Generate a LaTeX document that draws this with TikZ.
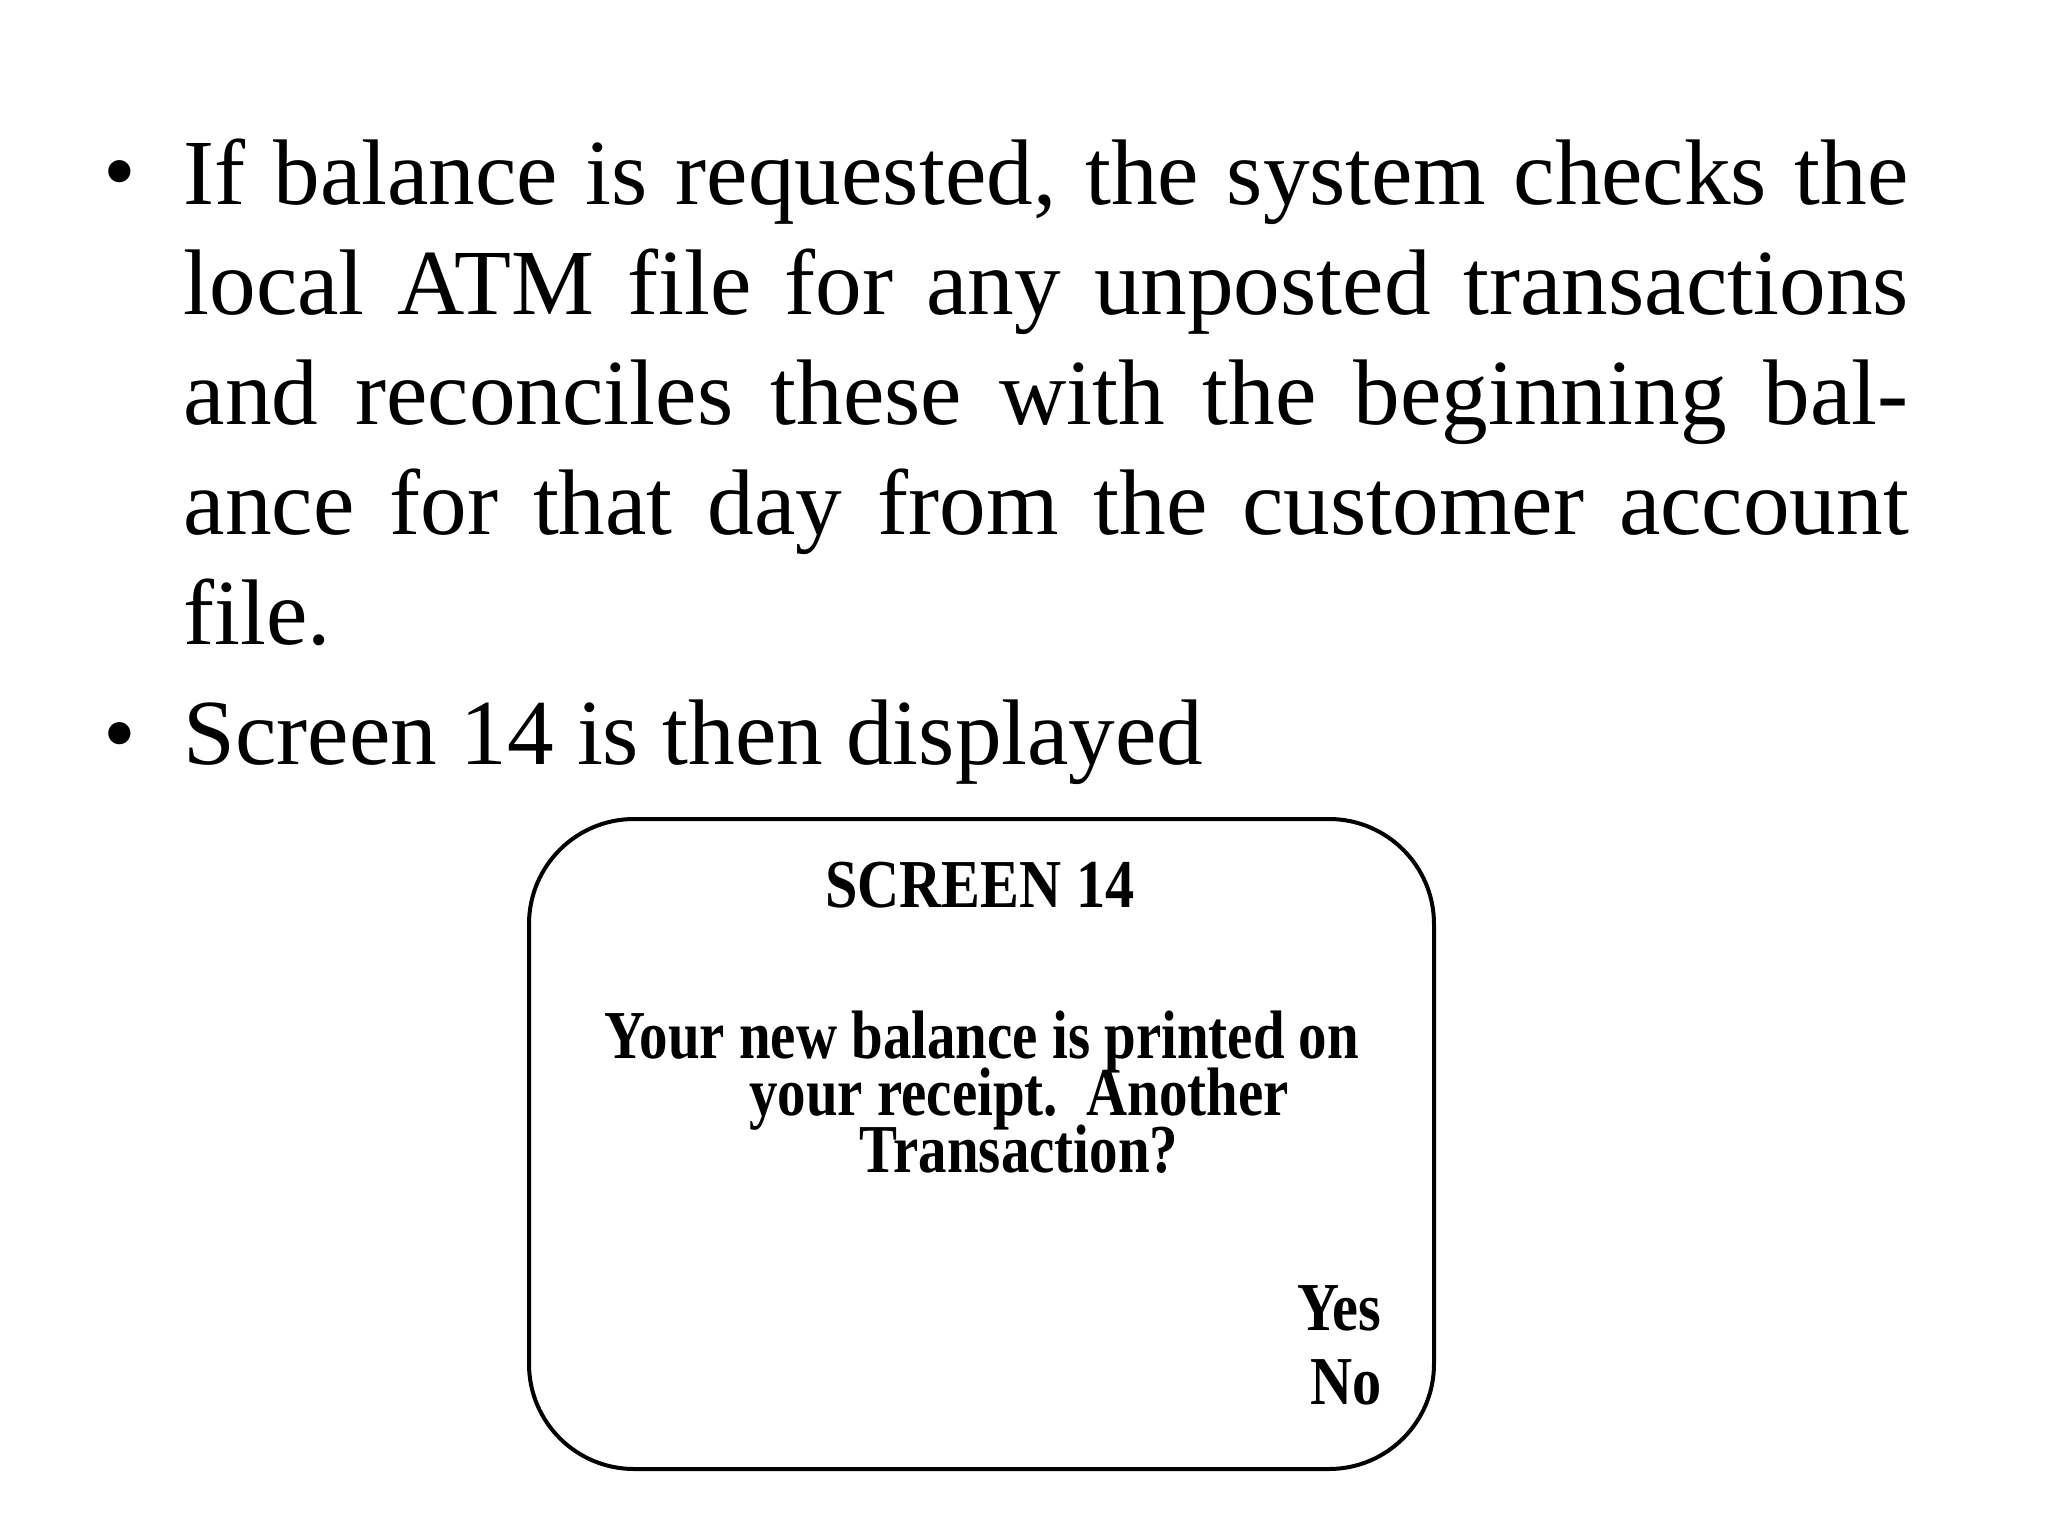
\documentclass[tikz,border=0pt]{standalone}
\usepackage{fontspec}
\setmainfont{Liberation Serif}
\begin{document}
\begin{tikzpicture}[x=0.01cm,y=-0.01cm,
  body/.style={anchor=north west,inner sep=0pt,text width=17.24cm,align=justify,font=\fontsize{26.5}{31.3}\selectfont},
  bul/.style={anchor=base west,inner sep=0pt,font=\fontsize{26.5}{31.3}\selectfont},
  scr/.style={font=\fontsize{19.5}{19.5}\selectfont\bfseries,inner sep=0pt}]
\useasboundingbox (0,0) rectangle (2048,1536);
\node[body] (b1) at (183,138) {\hyphenpenalty=10000\relax If balance is requested, the system checks the local ATM file for any unposted transactions and reconciles these with the beginning balance for that day from the customer account file.};
\node[bul] (d1) at (103,202) {\textbullet};
\node[bul] (b2) at (183,764) {Screen 14 is then displayed};
\node[bul] (d2) at (103,764) {\textbullet};
\draw[line width=0.04cm,rounded corners=1.05cm] (529,819) rectangle (1434,1469);
\node[scr,anchor=base] (t) at (980,907) {\scalebox{0.85}[1]{SCREEN 14}};
\node[scr,anchor=base] (l1) at (982,1058) {\scalebox{0.83}[1]{Your new balance is printed on}};
\node[scr,anchor=base] (l2) at (1019,1115) {\scalebox{0.83}[1]{your receipt.~~Another}};
\node[scr,anchor=base] (l3) at (1019,1172) {\scalebox{0.83}[1]{Transaction?}};
\node[scr,anchor=base east] (y) at (1382,1330) {\scalebox{0.85}[1]{Yes}};
\node[scr,anchor=base east] (n) at (1382,1404) {\scalebox{0.85}[1]{No}};
\end{tikzpicture}
\end{document}
